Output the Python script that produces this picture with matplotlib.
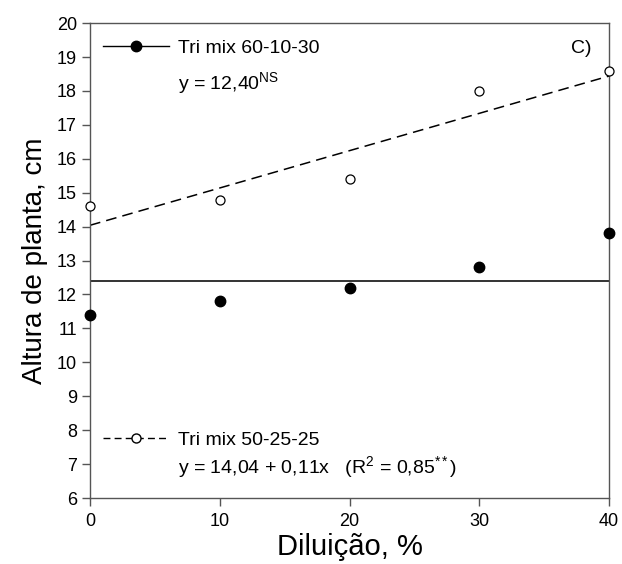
import matplotlib
matplotlib.use('Agg')
import matplotlib.pyplot as plt
from matplotlib.lines import Line2D

plt.rcParams['font.family'] = ['Liberation Sans', 'DejaVu Sans']
plt.rcParams['mathtext.fontset'] = 'custom'
plt.rcParams['mathtext.rm'] = 'Liberation Sans'
plt.rcParams['mathtext.it'] = 'Liberation Sans:italic'

# Dados
diluicao = [0, 10, 20, 30, 40]
tri_60_10_30 = [11.4, 11.8, 12.2, 12.8, 13.8]
tri_50_25_25 = [14.6, 14.8, 15.4, 18.0, 18.6]
media_60_10_30 = 12.40
a_50, b_50 = 14.04, 0.11
x_ticks = [0, 10, 20, 30, 40]
y_ticks = list(range(6, 21))

fig = plt.figure(figsize=(6.22, 5.64), dpi=100)
ax = fig.add_axes([0.1447, 0.117, 0.8344, 0.842])

# linhas de ajuste
ax.plot([0, 40], [media_60_10_30, media_60_10_30], color='#333333', lw=1.4)
fit_x = [0, 40]
fit_y = [a_50 + b_50 * x for x in fit_x]
ax.plot(fit_x, fit_y, color='black', lw=1.1, dashes=(7, 4))

# pontos
ax.plot(diluicao, tri_60_10_30, 'o', color='black', ms=7.5, clip_on=False, zorder=5)
ax.plot(diluicao, tri_50_25_25, 'o', mfc='white', mec='black', mew=0.9, ms=6.5,
        clip_on=False, zorder=5)

ax.set_xlim(0, 40)
ax.set_ylim(6, 20)
ax.set_xticks(x_ticks)
ax.set_yticks(y_ticks)
ax.tick_params(direction='out', length=6, width=1, color='#555555', labelsize=13)
ax.tick_params(axis='x', pad=5)
for s in ax.spines.values():
    s.set_color('#555555')
    s.set_linewidth(1)

ax.set_xlabel('Diluição, %', fontsize=21, labelpad=2)
ax.set_ylabel('Altura de planta, cm', fontsize=20, labelpad=6)

# legendas
h1 = Line2D([], [], color='black', lw=1, marker='o', ms=7.5)
h2 = Line2D([], [], color='black', lw=1, dashes=(5, 3), marker='o', mfc='white',
            mec='black', ms=6.5)
leg1 = ax.legend([h1], ['Tri mix 60-10-30'], loc='center left',
                 bbox_to_anchor=(0.025, 0.947), frameon=False, fontsize=14,
                 handlelength=3.4, handletextpad=0.45, borderpad=0,
                 borderaxespad=0, numpoints=1)
ax.add_artist(leg1)
ax.legend([h2], ['Tri mix 50-25-25'], loc='center left',
          bbox_to_anchor=(0.025, 0.122), frameon=False, fontsize=14,
          handlelength=3.4, handletextpad=0.45, borderpad=0,
          borderaxespad=0, numpoints=1)

ax.text(0.170, 0.874, r'y = 12,40$^{\mathrm{NS}}$', transform=ax.transAxes,
        fontsize=14, va='center', ha='left')
ax.text(0.170, 0.065, r'y = 14,04 + 0,11x   (R$^{\mathrm{2}}$ = 0,85$^{\mathrm{**}}$)',
        transform=ax.transAxes, fontsize=14, va='center', ha='left')
ax.text(0.967, 0.947, 'C)', transform=ax.transAxes, fontsize=14,
        va='center', ha='right')

fig.savefig('out.png', dpi=100)
